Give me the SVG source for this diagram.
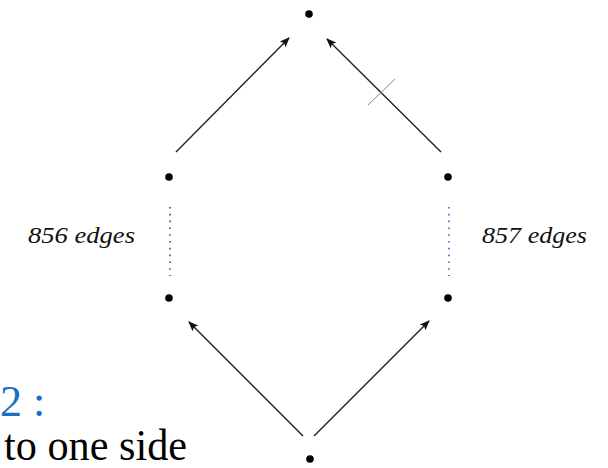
<svg xmlns="http://www.w3.org/2000/svg" width="608" height="468" viewBox="0 0 608 468">
<style>
.dot{fill:#000}
.edge{stroke:#222;stroke-width:1.4;fill:none;marker-end:url(#ah)}
.dots{stroke:#5a3a7a;stroke-width:1.6;stroke-dasharray:1.6 5.2;fill:none}
.lbl{font-family:"Liberation Serif",serif;font-style:italic;font-size:23px;fill:#111}
.big{font-family:"Liberation Serif",serif;font-size:44px}
</style>
<defs>
<marker id="ah" viewBox="0 0 10 10" refX="9" refY="5" markerWidth="11" markerHeight="10" markerUnits="userSpaceOnUse" orient="auto">
<path d="M0,1 L10,5 L0,9 L2,5 Z" fill="#111"/>
</marker>
</defs>
<rect width="608" height="468" fill="#fff"/>
<g id="connectors">
<line class="edge" x1="176" y1="152" x2="289" y2="38"/>
<line class="edge" x1="441" y1="152" x2="327" y2="39"/>
<line x1="368" y1="105" x2="395" y2="79" stroke="#888" stroke-width="1"/>
<line class="edge" x1="303" y1="436" x2="189" y2="322"/>
<line class="edge" x1="314" y1="436" x2="429" y2="321"/>
<line class="dots" x1="170" y1="207" x2="170" y2="276"/>
<line class="dots" x1="449" y1="207" x2="449" y2="276" style="stroke:#3a6ab0"/>
</g>
<g id="n-top"><circle class="dot" cx="309" cy="14" r="3.8"/></g>
<g id="n-left-top"><circle class="dot" cx="169" cy="177" r="3.8"/></g>
<g id="n-left-bottom"><circle class="dot" cx="169" cy="298" r="3.8"/></g>
<g id="n-right-top"><circle class="dot" cx="448" cy="177" r="3.8"/></g>
<g id="n-right-bottom"><circle class="dot" cx="448" cy="298" r="3.8"/></g>
<g id="n-bottom"><circle class="dot" cx="310" cy="459" r="3.8"/></g>
<g id="labels">
<text class="lbl" x="28" y="243" textLength="107" lengthAdjust="spacingAndGlyphs">856 edges</text>
<text class="lbl" x="482" y="243" textLength="105" lengthAdjust="spacingAndGlyphs">857 edges</text>
<text class="big" x="0" y="416" fill="#1a6fc4">2 :</text>
<text class="big" x="4" y="460" fill="#000" textLength="183" lengthAdjust="spacingAndGlyphs">to one side</text>
</g>
</svg>
